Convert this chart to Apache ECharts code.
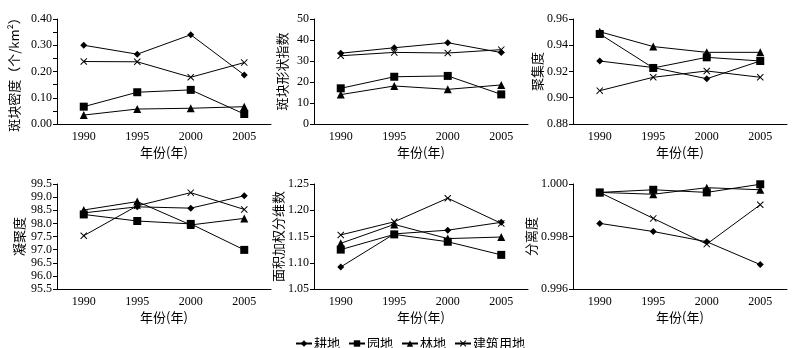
<!DOCTYPE html>
<html><head><meta charset="utf-8">
<script src="https://cdn.jsdelivr.net/npm/echarts@6/dist/echarts.min.js"></script>
<style>html,body{margin:0;padding:0;background:#fff}#c{width:794px;height:348px}</style>
</head><body><div id="c"></div>
<script>
const years = ['1990','1995','2000','2005'];
const landTypes = ['耕地','园地','林地','建筑用地'];
// each: [耕地, 园地, 林地, 建筑用地]
const patchDensity = [[0.300,0.266,0.340,0.187],[0.066,0.121,0.130,0.038],[0.034,0.057,0.060,0.066],[0.238,0.237,0.178,0.234]];
const shapeIndex   = [[33.7,36.3,38.7,34.0],[17.0,22.5,22.9,14.1],[14.0,18.1,16.5,18.6],[32.5,34.1,33.8,35.4]];
const aggregation  = [[0.928,0.923,0.9145,0.928],[0.9486,0.9227,0.9308,0.928],[0.9503,0.939,0.9346,0.9346],[0.9054,0.9156,0.9204,0.9156]];
const cohesion     = [[98.40,98.63,98.58,99.05],[98.34,98.09,97.98,96.99],[98.51,98.83,97.94,98.19],[97.53,98.67,99.17,98.53]];
const areaWeightedFD = [[1.092,1.155,1.162,1.177],[1.125,1.154,1.140,1.115],[1.137,1.173,1.146,1.149],[1.153,1.178,1.223,1.175]];
const splitting    = [[0.9985,0.99819,0.9978,0.99693],[0.99968,0.99978,0.99968,0.99999],[0.99968,0.99961,0.99986,0.99978],[0.99968,0.99869,0.99771,0.99921]];

const panelData = [patchDensity, shapeIndex, aggregation, cohesion, areaWeightedFD, splitting];
const yNames = ['斑块密度（个/km²）','斑块形状指数','聚集度','凝聚度','面积加权分维数','分离度'];
const yMin = [0, 0, 0.88, 95.5, 1.05, 0.996];
const yMax = [0.4, 50, 0.96, 99.5, 1.25, 1.000];
const yStep = [0.05, 10, 0.02, 0.5, 0.05, 0.002];
const labelEvery = [2, 1, 1, 1, 1, 1];
const decimals = [2, 0, 2, 1, 2, 3];

const lefts = [57, 314, 573];
const tops = [19, 184];
const nameGaps = [36, 25, 27, 31, 25, 27];
const symbols = ['diamond','rect','triangle','path://M0,1L1,0L5,4L9,0L10,1L6,5L10,9L9,10L5,6L1,10L0,9L4,5Z'];
const symSizes = [7, 8, 8, 7];
const numFont = "'Liberation Serif', 'Noto Sans CJK SC', serif";
const cjkFont = "'Noto Sans CJK SC', sans-serif";

const grid = [], xAxis = [], yAxis = [], series = [];
for (let p = 0; p < 6; p++) {
  grid.push({left: lefts[p % 3], top: tops[Math.floor(p / 3)], width: 214, height: 105, containLabel: false});
  xAxis.push({
    type: 'category', gridIndex: p, data: years, boundaryGap: true,
    axisLine: {lineStyle: {color: '#000', width: 1}},
    axisTick: {inside: true, length: 3, lineStyle: {color: '#000'}},
    axisLabel: {color: '#000', fontFamily: numFont, fontSize: 12, margin: 7},
    name: '年份(年)', nameLocation: 'middle', nameGap: 22,
    nameTextStyle: {color: '#000', fontFamily: cjkFont, fontSize: 13}
  });
  const step = yStep[p], every = labelEvery[p], dec = decimals[p], mn = yMin[p];
  yAxis.push({
    type: 'value', gridIndex: p, min: yMin[p], max: yMax[p], interval: step,
    axisLine: {show: true, lineStyle: {color: '#000', width: 1}},
    axisTick: {show: true, inside: false, length: 4, lineStyle: {color: '#000'}},
    splitLine: {show: false},
    axisLabel: {color: '#000', fontFamily: numFont, fontSize: 12, margin: 5,
      formatter: v => (Math.round((v - mn) / step) % every === 0) ? v.toFixed(dec) : ''},
    name: yNames[p], nameLocation: 'middle', nameRotate: 90, nameGap: nameGaps[p],
    nameTextStyle: {color: '#000', fontFamily: cjkFont, fontSize: 13}
  });
  for (let t = 0; t < 4; t++) {
    series.push({
      type: 'line', name: landTypes[t], xAxisIndex: p, yAxisIndex: p,
      data: panelData[p][t], symbol: symbols[t], symbolSize: symSizes[t],
      showAllSymbol: true,
      lineStyle: {color: '#000', width: 1}, itemStyle: {color: '#000'},
      z: 2 + t
    });
  }
}

const chart = echarts.init(document.getElementById('c'), null, {renderer: 'canvas'});
chart.setOption({
  animation: false,
  backgroundColor: '#fff',
  grid, xAxis, yAxis, series,
  legend: {
    data: landTypes, left: 290, top: 332, itemWidth: 16, itemHeight: 8, itemGap: 8,
    textStyle: {color: '#000', fontFamily: cjkFont, fontSize: 13, padding: [0,0,0,-3]},
    selectedMode: false
  }
});
</script></body></html>
